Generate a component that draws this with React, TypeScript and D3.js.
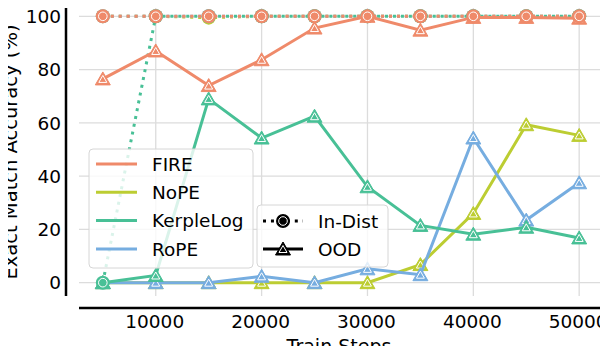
import React, { useRef, useEffect } from 'react';
import * as d3 from 'd3';

const steps = [5000, 10000, 15000, 20000, 25000, 30000, 35000, 40000, 45000, 50000];
const models = ['FIRE', 'NoPE', 'KerpleLog', 'RoPE'];
const colors = ['#ef8a6a', '#bccd32', '#48c096', '#76ade0'];

// out-of-distribution accuracy (solid, triangles)
const fireOod = [76.5, 87, 74, 83.7, 95.6, 100, 94.8, 99.6, 99.6, 99.3];
const nopeOod = [0, 0, 0, 0, 0, 0, 6.8, 26, 59.3, 55.3];
const kerpleOod = [0, 2.7, 69, 54.3, 62.5, 36, 21.5, 18.2, 20.8, 16.8];
const ropeOod = [0, 0, 0, 2.4, 0, 5.2, 3, 54.3, 23.5, 37.5];

// in-distribution accuracy (dotted, circles)
const fireInd = [100, 100, 100, 100, 100, 100, 100, 100, 100, 100];
const nopeInd = [100, 100, 99.5, 100, 100, 100, 100, 100, 100, 100];
const kerpleInd = [0, 100, 100, 100, 100, 100, 100, 100, 100, 100];
const ropeInd = [100, 100, 100, 100, 100, 100, 100, 100, 100, 100];

const yTicks = [0, 20, 40, 60, 80, 100];
const xTicks = [10000, 20000, 30000, 40000, 50000];

const Chart = () => {
  const ref = useRef<SVGSVGElement>(null);

  useEffect(() => {
    const svg = d3.select(ref.current);
    svg.selectAll('*').remove();
    const font = 'DejaVu Sans';
    const fs = 18.5;

    const x = d3.scaleLinear().domain([2750, 52250]).range([79, 603]);
    const y = d3.scaleLinear().domain([-5, 105]).range([296, 3]);

    // grid
    const grid = svg.append('g').attr('stroke', '#dcdcdc').attr('stroke-width', 1.3);
    yTicks.forEach(t => {
      grid.append('line').attr('x1', 79).attr('x2', 603).attr('y1', y(t)).attr('y2', y(t));
    });
    xTicks.forEach(t => {
      grid.append('line').attr('x1', x(t)).attr('x2', x(t)).attr('y1', 3).attr('y2', 296);
    });

    // offset spines
    svg.append('line').attr('x1', 66).attr('x2', 66).attr('y1', 3).attr('y2', 296)
      .attr('stroke', '#000').attr('stroke-width', 2.5);
    svg.append('line').attr('x1', 79).attr('x2', 603).attr('y1', 308).attr('y2', 308)
      .attr('stroke', '#000').attr('stroke-width', 2.5);

    // tick labels
    yTicks.forEach(t => {
      svg.append('text').attr('x', 61).attr('y', y(t)).attr('dy', '0.36em')
        .attr('text-anchor', 'end').attr('font-family', font).attr('font-size', fs).text(t);
    });
    xTicks.forEach(t => {
      svg.append('text').attr('x', x(t) - 1).attr('y', 328)
        .attr('text-anchor', 'middle').attr('font-family', font).attr('font-size', fs).text(t);
    });
    svg.append('text').attr('x', 339).attr('y', 353).attr('text-anchor', 'middle')
      .attr('font-family', font).attr('font-size', 19).text('Train Steps');
    svg.append('text').attr('transform', 'translate(17,152) rotate(-90)').attr('text-anchor', 'middle')
      .attr('font-family', font).attr('font-size', 19.5).text('Exact Match Accuracy (%)');

    const tri = (g, cx, cy, c) => {
      g.append('path').attr('d', `M${cx},${cy - 7}L${cx - 7.5},${cy + 6}L${cx + 7.5},${cy + 6}Z`)
        .attr('fill', c).attr('stroke', c).attr('stroke-width', 1);
      g.append('path').attr('d', `M${cx},${cy - 3.5}L${cx - 4},${cy + 3.5}L${cx + 4},${cy + 3.5}Z`)
        .attr('fill', 'none').attr('stroke', '#fff').attr('stroke-width', 1);
    };
    const dot = (g, cx, cy, c) => {
      g.append('circle').attr('cx', cx).attr('cy', cy).attr('r', 7).attr('fill', c);
      g.append('circle').attr('cx', cx).attr('cy', cy).attr('r', 4.3)
        .attr('fill', 'none').attr('stroke', '#fff').attr('stroke-width', 1);
    };

    const line = d3.line<number>().x((_, i) => x(steps[i])).y(d => y(d));
    const ood = [fireOod, nopeOod, kerpleOod, ropeOod];
    const ind = [fireInd, nopeInd, kerpleInd, ropeInd];
    const plot = svg.append('g');
    [1, 3, 2, 0].forEach(m => {
      const c = colors[m];
      const g = plot.append('g');
      g.append('path').attr('d', line(ood[m])).attr('fill', 'none').attr('stroke', c).attr('stroke-width', 3);
      ood[m].forEach((v, i) => tri(g, x(steps[i]), y(v), c));
      g.append('path').attr('d', line(ind[m])).attr('fill', 'none').attr('stroke', c)
        .attr('stroke-width', 3).attr('stroke-dasharray', '3 4.95');
      ind[m].forEach((v, i) => dot(g, x(steps[i]), y(v), c));
    });

    // legend: models
    const l1 = svg.append('g');
    l1.append('rect').attr('x', 89).attr('y', 149).attr('width', 164).attr('height', 119).attr('rx', 4)
      .attr('fill', '#fff').attr('fill-opacity', 0.8).attr('stroke', '#d6d6d6').attr('stroke-width', 1);
    models.forEach((name, i) => {
      const ly = 164 + i * 28.3;
      l1.append('line').attr('x1', 96).attr('x2', 137).attr('y1', ly).attr('y2', ly)
        .attr('stroke', colors[i]).attr('stroke-width', 3);
      l1.append('text').attr('x', 152).attr('y', ly).attr('dy', '0.36em')
        .attr('font-family', font).attr('font-size', fs).text(name);
    });

    // legend: split
    const l2 = svg.append('g');
    l2.append('rect').attr('x', 257).attr('y', 205).attr('width', 131).attr('height', 62).attr('rx', 4)
      .attr('fill', '#fff').attr('fill-opacity', 0.8).attr('stroke', '#d6d6d6').attr('stroke-width', 1);
    l2.append('line').attr('x1', 263).attr('x2', 303).attr('y1', 221).attr('y2', 221)
      .attr('stroke', '#000').attr('stroke-width', 3).attr('stroke-dasharray', '3 4.95');
    dot(l2, 283, 221, '#000');
    l2.append('line').attr('x1', 263).attr('x2', 303).attr('y1', 249).attr('y2', 249)
      .attr('stroke', '#000').attr('stroke-width', 3);
    tri(l2, 283, 249, '#000');
    l2.append('text').attr('x', 318).attr('y', 221).attr('dy', '0.36em')
      .attr('font-family', font).attr('font-size', fs).text('In-Dist');
    l2.append('text').attr('x', 318).attr('y', 249).attr('dy', '0.36em')
      .attr('font-family', font).attr('font-size', fs).text('OOD');
  }, []);

  return <svg ref={ref} width={608} height={354} style={{ display: 'block' }} />;
};

export default function App() {
  return (
    <div style={{ margin: -8 }}>
      <Chart />
    </div>
  );
}
